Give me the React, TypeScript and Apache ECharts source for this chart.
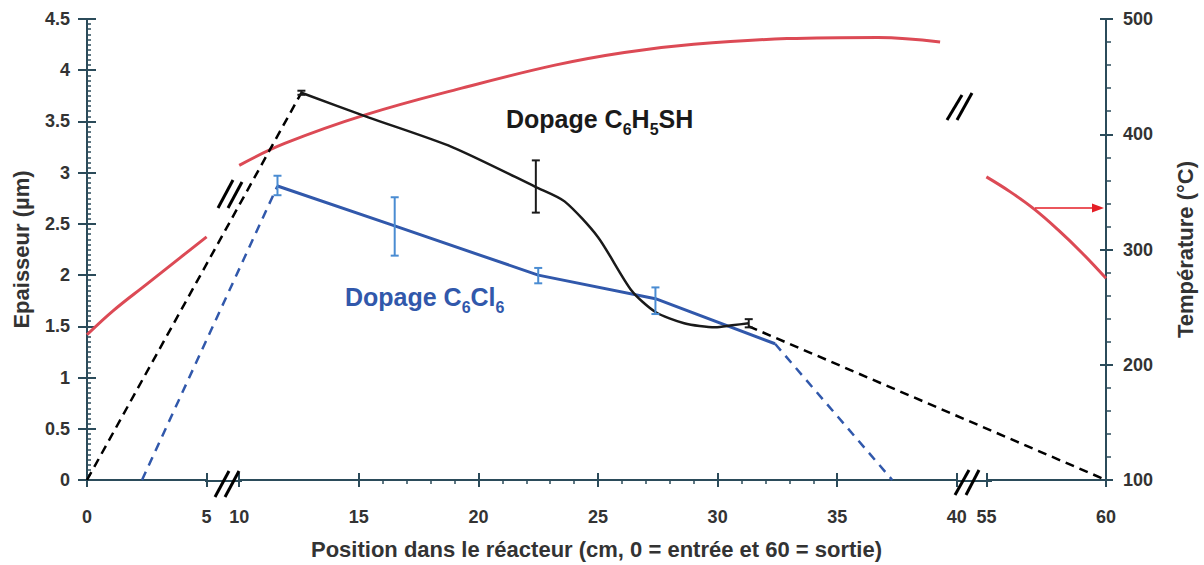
import React, { useEffect, useRef } from 'react';
import * as echarts from 'echarts';
import * as echartsFeatures from 'echarts/features';

const feats: any = echartsFeatures;
if (feats && feats.AxisBreak) {
  echarts.use([feats.AxisBreak]);
}

// ---------- data ----------
// temperature profile (right axis, °C), three visible segments of the broken axis
const tempSeg1X = [0, 1.1, 2.5, 3.9, 5];
const tempSeg1T = [226, 247, 270, 293, 311];
const tempSeg2X = [10, 11.9, 15.3, 19.3, 23.2, 26.1, 29, 32.9, 36.7, 39.3];
const tempSeg2T = [373, 392, 417, 440, 460, 471, 478, 483, 484, 480];
const tempSeg3X = [55, 56, 57, 58, 59, 60];
const tempSeg3T = [363, 350, 335, 317, 297, 275];

// thickness, C6H5SH doping (left axis, µm)
const blackX = [12.6, 15.4, 18.9, 22.4, 23.6, 25, 26.4, 27.4, 28.6, 29.9, 30.6, 31.3];
const blackY = [3.78, 3.54, 3.25, 2.86, 2.72, 2.37, 1.85, 1.64, 1.53, 1.49, 1.51, 1.53];
const blackDashLeftX = [0, 12.6];
const blackDashLeftY = [0, 3.78];
const blackDashRightX = [31.3, 60];
const blackDashRightY = [1.5, 0];
const blackErrX = [12.6, 22.4, 31.3];
const blackErrLow = [3.76, 2.61, 1.49];
const blackErrHigh = [3.8, 3.12, 1.57];

// thickness, C6Cl6 doping (left axis, µm)
const blueX = [11.6, 16.5, 22.5, 27.4, 32.4];
const blueY = [2.87, 2.48, 2.0, 1.77, 1.33];
const blueDashLeftX = [2.3, 11.6];
const blueDashLeftY = [0, 2.87];
const blueDashRightX = [32.4, 37.3];
const blueDashRightY = [1.33, 0];
const blueErrX = [11.6, 16.5, 22.5, 27.4];
const blueErrLow = [2.78, 2.19, 1.92, 1.62];
const blueErrHigh = [2.97, 2.76, 2.07, 1.88];

// axis settings
const xBreaks = [
  { start: 5, end: 10, gap: '3.2%' },
  { start: 40, end: 55, gap: '2.9%' },
];

const zip = (xs: number[], ys: number[]) => xs.map((x, i) => [x, ys[i]]);
const zip3 = (xs: number[], lo: number[], hi: number[]) => xs.map((x, i) => [x, lo[i], hi[i]]);

const FONT = '"Liberation Sans", Arial, Helvetica, sans-serif';
const AXIS_COLOR = '#2b4b5a';
const LABEL = { color: '#333', fontSize: 18, fontWeight: 'bold' as const, fontFamily: FONT };
const NAME = { color: '#333', fontSize: 22, fontWeight: 'bold' as const, fontFamily: FONT };
const RED = '#dc4a55';
const BLACK = '#1a1a1a';
const BLUE = '#3158ab';
const BLUE_ERR = '#4a8cd2';

function errorBarRender(color: string) {
  return (params: any, api: any) => {
    const x = api.value(0);
    const p1 = api.coord([x, api.value(2)]);
    const p2 = api.coord([x, api.value(1)]);
    const w = 4;
    const style = { stroke: color, lineWidth: 2 };
    return {
      type: 'group',
      children: [
        { type: 'line', shape: { x1: p1[0], y1: p1[1], x2: p2[0], y2: p2[1] }, style },
        { type: 'line', shape: { x1: p1[0] - w, y1: p1[1], x2: p1[0] + w, y2: p1[1] }, style },
        { type: 'line', shape: { x1: p2[0] - w, y1: p2[1], x2: p2[0] + w, y2: p2[1] }, style },
      ],
    };
  };
}

function slash(x1: number, y1: number, x2: number, y2: number) {
  return {
    type: 'line',
    z: 100,
    shape: { x1, y1, x2, y2 },
    style: { stroke: '#000', lineWidth: 3 },
  };
}

function richLabel(color: string) {
  return {
    m: { fontSize: 25, fontWeight: 'bold', fontFamily: FONT, fill: color, lineHeight: 28, verticalAlign: 'top' },
    s: {
      fontSize: 16,
      fontWeight: 'bold',
      fontFamily: FONT,
      fill: color,
      lineHeight: 15,
      verticalAlign: 'top',
      padding: [15, 0, 0, 0],
    },
  };
}

export default function App() {
  const ref = useRef<HTMLDivElement>(null);

  useEffect(() => {
    if (!ref.current) return;
    const chart = echarts.init(ref.current, undefined, { renderer: 'svg' });

    const baseX = {
      type: 'value',
      min: 0,
      max: 60,
      interval: 5,
      position: 'bottom',
      breaks: xBreaks,
      breakArea: { show: false },
      splitLine: { show: false },
    };

    const option: any = {
      animation: false,
      backgroundColor: '#fff',
      grid: { left: 87, right: 93, top: 19, bottom: 84, containLabel: false },
      xAxis: [
        {
          ...baseX,
          axisLine: { show: true, onZero: false, lineStyle: { color: AXIS_COLOR, width: 2 } },
          axisTick: { show: true, length: 7, lineStyle: { color: AXIS_COLOR, width: 2 } },
          minorTick: { show: true, splitNumber: 5, length: 4, lineStyle: { color: AXIS_COLOR, width: 1.5 } },
          axisLabel: { ...LABEL, margin: 28 },
          name: 'Position dans le réacteur (cm, 0 = entrée et 60 = sortie)',
          nameLocation: 'middle',
          nameGap: 58,
          nameTextStyle: NAME,
        },
        {
          ...baseX,
          axisLine: { show: false, onZero: false },
          axisTick: { show: true, inside: true, length: 7, lineStyle: { color: AXIS_COLOR, width: 2 } },
          minorTick: { show: false },
          axisLabel: { show: false },
        },
      ],
      yAxis: [
        {
          type: 'value',
          position: 'left',
          min: 0,
          max: 4.5,
          interval: 0.5,
          axisLine: { show: true, onZero: false, lineStyle: { color: AXIS_COLOR, width: 2 } },
          axisTick: { show: true, inside: true, length: 9, lineStyle: { color: AXIS_COLOR, width: 2 } },
          minorTick: { show: true, splitNumber: 10, length: 4, lineStyle: { color: AXIS_COLOR, width: 1.5 } },
          axisLabel: { ...LABEL, margin: 17 },
          splitLine: { show: false },
          name: 'Epaisseur (µm)',
          nameLocation: 'middle',
          nameGap: 55,
          nameRotate: 90,
          nameTextStyle: NAME,
        },
        {
          type: 'value',
          position: 'right',
          min: 100,
          max: 500,
          interval: 100,
          axisLine: { show: true, onZero: false, lineStyle: { color: AXIS_COLOR, width: 2 } },
          axisTick: { show: true, length: 7, lineStyle: { color: AXIS_COLOR, width: 2 } },
          minorTick: { show: true, splitNumber: 5, length: 5, lineStyle: { color: AXIS_COLOR, width: 1.5 } },
          axisLabel: { ...LABEL, margin: 17 },
          splitLine: { show: false },
          name: 'Température (°C)',
          nameLocation: 'middle',
          nameGap: 68,
          nameRotate: 90,
          nameTextStyle: NAME,
        },
        {
          type: 'value',
          position: 'left',
          min: 0,
          max: 4.5,
          interval: 0.5,
          axisLine: { show: false, onZero: false },
          axisTick: { show: true, length: 9, lineStyle: { color: AXIS_COLOR, width: 2 } },
          minorTick: { show: false },
          axisLabel: { show: false },
          splitLine: { show: false },
        },
        {
          type: 'value',
          position: 'right',
          min: 100,
          max: 500,
          interval: 100,
          axisLine: { show: false, onZero: false },
          axisTick: { show: true, inside: true, length: 6, lineStyle: { color: AXIS_COLOR, width: 2 } },
          minorTick: { show: false },
          axisLabel: { show: false },
          splitLine: { show: false },
        },
      ],
      series: [
        ...[zip(tempSeg1X, tempSeg1T), zip(tempSeg2X, tempSeg2T), zip(tempSeg3X, tempSeg3T)].map((d) => ({
          type: 'line',
          yAxisIndex: 1,
          data: d,
          smooth: 0.4,
          showSymbol: false,
          lineStyle: { color: RED, width: 3 },
          z: 2,
        })),
        {
          type: 'line',
          yAxisIndex: 0,
          data: zip(blackDashLeftX, blackDashLeftY),
          showSymbol: false,
          lineStyle: { color: '#000', width: 2.5, type: [9, 6] },
          z: 3,
        },
        {
          type: 'line',
          yAxisIndex: 0,
          data: zip(blackDashRightX, blackDashRightY),
          showSymbol: false,
          lineStyle: { color: '#000', width: 2.5, type: [9, 6] },
          z: 3,
        },
        {
          type: 'line',
          yAxisIndex: 0,
          data: zip(blueDashLeftX, blueDashLeftY),
          showSymbol: false,
          lineStyle: { color: BLUE, width: 2.5, type: [9, 7] },
          z: 3,
        },
        {
          type: 'line',
          yAxisIndex: 0,
          data: zip(blueDashRightX, blueDashRightY),
          showSymbol: false,
          lineStyle: { color: BLUE, width: 2.5, type: [9, 7] },
          z: 3,
        },
        {
          type: 'line',
          yAxisIndex: 0,
          data: zip(blueX, blueY),
          showSymbol: false,
          lineStyle: { color: BLUE, width: 3 },
          z: 4,
        },
        {
          type: 'line',
          yAxisIndex: 0,
          data: zip(blackX, blackY),
          smooth: 0.25,
          showSymbol: false,
          lineStyle: { color: BLACK, width: 2.5 },
          z: 5,
        },
        {
          type: 'custom',
          yAxisIndex: 0,
          data: zip3(blueErrX, blueErrLow, blueErrHigh),
          encode: { x: 0, y: [1, 2] },
          renderItem: errorBarRender(BLUE_ERR),
          z: 6,
        },
        {
          type: 'custom',
          yAxisIndex: 0,
          data: zip3(blackErrX, blackErrLow, blackErrHigh),
          encode: { x: 0, y: [1, 2] },
          renderItem: errorBarRender(BLACK),
          z: 6,
        },
      ],
      graphic: [
        // axis line continued across the breaks
        {
          type: 'line',
          z: 90,
          shape: { x1: 205, y1: 481, x2: 242, y2: 481 },
          style: { stroke: AXIS_COLOR, lineWidth: 2 },
        },
        {
          type: 'line',
          z: 90,
          shape: { x1: 958, y1: 481, x2: 992, y2: 481 },
          style: { stroke: AXIS_COLOR, lineWidth: 2 },
        },
        // axis-break marks
        slash(215, 497, 229, 471),
        slash(225, 497, 239, 471),
        slash(955, 495, 969, 470),
        slash(966, 495, 979, 470),
        slash(218, 208, 233, 180),
        slash(228, 208, 242, 182),
        slash(947, 120, 962, 95),
        slash(957, 120, 972, 93),
        // red arrow towards temperature axis
        {
          type: 'line',
          z: 100,
          shape: { x1: 1035, y1: 208, x2: 1096, y2: 208 },
          style: { stroke: '#e41e26', lineWidth: 1.5 },
        },
        {
          type: 'polygon',
          z: 100,
          shape: { points: [[1092, 203.5], [1104, 208], [1092, 212.5]] },
          style: { fill: '#e41e26' },
        },
        // annotations
        {
          type: 'text',
          z: 100,
          x: 506,
          y: 106,
          style: {
            text: '{m|Dopage C}{s|6}{m|H}{s|5}{m|SH}',
            rich: richLabel(BLACK),
          },
        },
        {
          type: 'text',
          z: 100,
          x: 345,
          y: 284,
          style: {
            text: '{m|Dopage C}{s|6}{m|Cl}{s|6}',
            rich: richLabel(BLUE),
          },
        },
      ],
    };

    chart.setOption(option);
    return () => chart.dispose();
  }, []);

  return (
    <div
      ref={ref}
      style={{ position: 'fixed', left: 0, top: 0, width: 1204, height: 565, background: '#fff' }}
    />
  );
}
